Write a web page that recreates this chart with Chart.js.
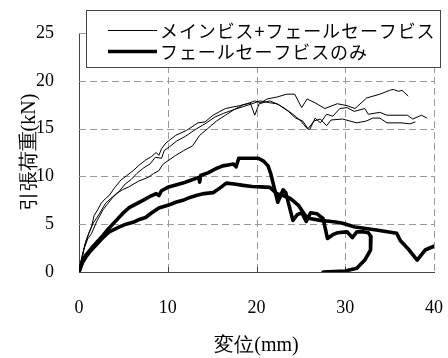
<!DOCTYPE html>
<html>
<head>
<meta charset="utf-8">
<script src="https://cdn.jsdelivr.net/npm/chart.js@4.4.1/dist/chart.umd.min.js"></script>
<style>
html,body{margin:0;padding:0;background:#fff;}
#wrap{width:448px;height:358px;position:relative;}
</style>
</head>
<body>
<div id="wrap"><canvas id="c" width="448" height="358"></canvas></div>
<script>
// ---- data (displacement mm, load kN) ----
const xTicks = [0, 10, 20, 30, 40];
const yTicks = [0, 5, 10, 15, 20, 25];
const xTitle = '変位(mm)';
const yTitle = '引張荷重(kN)';
const seriesNames = ['メインビス+フェールセーフビス', 'フェールセーフビスのみ'];

// メインビス+フェールセーフビス (3 specimens, thin)
const mainA = [[0,0],[0.3,1.5],[0.7,3],[1.1,4],[1.4,4.7],[1.7,5.9],[2.1,6.5],[2.5,7.2],[3.0,7.7],[3.4,8.0],[4.0,8.8],[4.7,9.6],[5.4,10.1],[6.1,10.6],[6.8,11.2],[7.5,11.7],[8.2,12.1],[8.7,12.5],[9.0,12.2],[9.3,12.9],[9.8,13.5],[10.9,14.3],[12.1,14.8],[13.4,15.6],[14.2,15.7],[15.1,16.4],[16.5,17.1],[18.1,17.4],[19.0,17.6],[19.8,17.9],[20.5,17.7],[21.2,18.1],[22.3,18.3],[23.4,18.6],[24.3,18.6],[25.1,17.2],[25.7,18.1],[26.6,17.7],[27.7,17.1],[29.1,17.6],[30.2,17.4],[31.1,17.1],[32.4,18.2],[33.9,18.6],[35.0,19.0],[35.4,19.1],[36.0,18.9],[36.4,19.0],[37.1,18.4]];
const mainB = [[0,0],[0.4,1.8],[0.8,3.3],[1.2,4.3],[1.6,5.1],[2.3,6.1],[3.0,7.2],[3.6,7.7],[4.2,8.2],[4.9,8.6],[5.6,8.9],[6.7,9.5],[7.8,9.9],[8.4,10.3],[9.0,10.6],[9.4,11.2],[9.8,11.5],[10.9,12.2],[11.8,12.7],[12.8,13.2],[13.6,14.3],[14.5,15.0],[15.5,15.8],[16.5,16.4],[17.5,17.0],[18.5,17.3],[19.5,17.6],[20.4,17.9],[21.5,17.7],[22.3,17.6],[23.2,17.1],[24.1,16.5],[25.0,15.8],[25.7,15.0],[26.0,14.9],[26.6,16.1],[27.2,15.6],[27.9,16.5],[28.6,16.3],[29.4,17.1],[30.2,17.2],[31.0,16.8],[32.2,17.1],[32.6,16.5],[33.9,16.7],[34.7,16.4],[37.0,16.4],[37.6,16.0],[38.6,16.4],[39.2,16.1]];
const mainC = [[0,0],[0.3,1.2],[0.6,2.5],[1.0,3.5],[1.4,4.0],[2.0,5.3],[2.7,6.5],[3.2,7.1],[3.8,7.8],[4.5,8.4],[5.2,9.2],[5.9,9.7],[6.5,10.3],[7.3,10.9],[8.0,11.3],[8.6,12.0],[9.3,11.9],[9.6,12.7],[10.2,13.1],[11.0,13.7],[12.0,14.2],[13.1,14.9],[14.2,15.5],[15.3,16.2],[16.3,16.6],[17.5,17.0],[18.5,17.5],[19.3,17.7],[19.8,16.4],[20.3,17.6],[21.5,17.9],[22.5,17.5],[23.6,16.8],[24.4,16.1],[25.2,15.8],[25.8,15.0],[26.5,15.8],[27.2,16.0],[27.9,15.3],[28.4,15.9],[29.7,16.0],[31.3,15.6],[32.4,15.8],[33.1,16.1],[33.9,16.1],[34.7,15.6],[36.3,15.6],[37.3,15.5],[37.9,15.7]];

// フェールセーフビスのみ (2 specimens, thick)
const fsA = [[0,0],[0.4,1.2],[0.8,1.8],[1.6,2.7],[2.5,3.6],[3.3,4.5],[4.2,5.4],[4.9,6.1],[5.6,6.7],[6.4,7.1],[7.2,7.5],[8.0,7.9],[8.7,8.2],[9.0,8.0],[9.3,8.5],[10.1,8.9],[10.9,9.1],[11.7,9.3],[12.6,9.6],[13.5,9.9],[13.6,9.4],[13.7,10.1],[14.6,10.4],[15.4,10.8],[16.2,11.1],[16.8,11.2],[17.4,11.3],[17.7,11.0],[18.0,11.9],[19.1,11.9],[20.2,11.9],[20.8,11.6],[21.3,11.1],[21.6,10.3],[22.0,8.8],[22.4,7.3],[23.0,8.6],[23.3,8.3],[24.1,5.4],[24.6,6.0],[25.1,6.2],[25.6,5.3],[26.1,6.2],[26.8,6.1],[27.5,5.6],[28.0,3.5],[28.6,3.9],[29.1,4.1],[30.2,4.2],[30.8,3.6],[31.3,4.2],[32.0,4.2],[32.6,4.1],[32.9,3.7],[32.9,2.8],[32.8,2.3],[32.2,1.25],[31.3,0.4],[30.0,0.1],[27.5,0]];
const fsB = [[0,0],[0.4,1.0],[0.8,1.6],[1.3,2.2],[1.9,2.8],[2.6,3.5],[3.4,4.2],[4.5,4.7],[5.3,5.0],[6.1,5.2],[6.8,5.5],[7.5,5.7],[8.2,6.2],[9.0,6.7],[10.1,7.0],[10.9,7.3],[11.7,7.5],[12.5,7.8],[13.2,8.0],[14.1,8.2],[15.1,8.3],[15.9,8.8],[16.6,9.3],[17.5,9.2],[18.5,9.06],[19.5,8.95],[20.5,8.9],[21.5,8.85],[22.3,8.2],[23.0,8.0],[23.8,7.7],[24.7,7.0],[25.5,5.9],[26.0,5.6],[27.2,5.4],[28.2,5.3],[29.1,5.2],[29.7,5.1],[31.1,4.7],[33.5,4.4],[35.8,4.06],[36.2,3.3],[37.2,2.3],[38.1,1.25],[39.0,2.3],[40,2.7]];

const toPts = arr => arr.map(p => ({x: p[0], y: p[1]}));
const thin = (label, d) => ({label, data: toPts(d), borderColor: '#000', borderWidth: 1, showLine: true, pointRadius: 0, tension: 0, fill: false});
const thick = (label, d) => ({label, data: toPts(d), borderColor: '#000', borderWidth: 3.6, showLine: true, pointRadius: 0, tension: 0, fill: false, borderJoinStyle: 'round', borderCapStyle: 'round'});

const datasets = [
  thin(seriesNames[0], mainA), thin(seriesNames[0], mainB), thin(seriesNames[0], mainC),
  thick(seriesNames[1], fsA), thick(seriesNames[1], fsB)
];
const legendEntries = [0, 3]; // dataset indices shown in legend

const serif = '"Liberation Serif", "Times New Roman", serif';
const cjk = '"Noto Sans CJK JP", sans-serif';

const boxLegend = {
  id: 'boxLegend',
  afterDraw(chart) {
    const ctx = chart.ctx;
    const L = 86, T = 10, R = 441, B = 68;
    ctx.save();
    ctx.fillStyle = '#fff';
    ctx.fillRect(L, T, R - L, B - T);
    ctx.strokeStyle = '#444';
    ctx.lineWidth = 1;
    ctx.strokeRect(L + 0.5, T + 0.5, R - L - 1, B - T - 1);
    const rows = [30, 51];
    legendEntries.forEach((di, i) => {
      const ds = chart.data.datasets[di];
      ctx.strokeStyle = ds.borderColor;
      ctx.lineWidth = ds.borderWidth;
      ctx.beginPath();
      ctx.moveTo(108, rows[i] + 0.5);
      ctx.lineTo(157, rows[i] + 0.5);
      ctx.stroke();
      ctx.fillStyle = '#000';
      ctx.font = '18px ' + cjk;
      try { ctx.letterSpacing = '0.9px'; } catch (e) {}
      ctx.textBaseline = 'middle';
      ctx.textAlign = 'left';
      ctx.fillText(ds.label, 160, rows[i] + 1);
    });
    ctx.restore();
  }
};

const dashedGrid = {
  id: 'dashedGrid',
  beforeDatasetsDraw(chart) {
    const ctx = chart.ctx, xs = chart.scales.x, ys = chart.scales.y, a = chart.chartArea;
    ctx.save();
    ctx.strokeStyle = '#999';
    ctx.lineWidth = 1;
    ctx.setLineDash([7, 4]);
    ctx.beginPath();
    xTicks.slice(1).forEach(v => {
      const px = Math.round(xs.getPixelForValue(v)) + 0.5;
      ctx.moveTo(px, a.top); ctx.lineTo(px, a.bottom);
    });
    yTicks.slice(1).forEach(v => {
      const py = Math.round(ys.getPixelForValue(v)) + 0.5;
      ctx.moveTo(a.left, py); ctx.lineTo(a.right, py);
    });
    ctx.stroke();
    ctx.setLineDash([]);
    // solid inner tick marks on x axis
    ctx.strokeStyle = '#444';
    ctx.beginPath();
    xTicks.slice(1, -1).forEach(v => {
      const px = Math.round(xs.getPixelForValue(v)) + 0.5;
      ctx.moveTo(px, a.bottom); ctx.lineTo(px, a.bottom - 5);
    });
    ctx.stroke();
    ctx.restore();
  }
};

new Chart(document.getElementById('c'), {
  type: 'scatter',
  data: { datasets },
  options: {
    responsive: false,
    animation: false,
    layout: { padding: { top: 33, right: 14, left: 0, bottom: 0 } },
    plugins: { legend: { display: false }, tooltip: { enabled: false } },
    scales: {
      x: {
        type: 'linear', min: 0, max: 40,
        afterBuildTicks: s => { s.ticks = xTicks.map(v => ({value: v})); },
        afterFit: s => { s.height = 86; s.paddingLeft = 0; s.paddingRight = 0; },
        grid: { display: false },
        border: { display: true, color: '#444', width: 1 },
        ticks: { color: '#000', font: { family: serif, size: 18 }, padding: 17, maxRotation: 0 },
        title: { display: true, text: xTitle, color: '#000', font: { family: serif, size: 20 }, padding: { top: 0, bottom: 0 } }
      },
      y: {
        type: 'linear', min: 0, max: 25,
        afterBuildTicks: s => { s.ticks = yTicks.map(v => ({value: v})); },
        afterFit: s => { s.width = 79; s.paddingTop = 0; s.paddingBottom = 0; },
        grid: { display: false },
        border: { display: true, color: '#444', width: 1 },
        ticks: { color: '#000', font: { family: serif, size: 18 }, padding: 17 },
        title: { display: true, text: yTitle, color: '#000', font: { family: serif, size: 20 }, padding: { top: 18, bottom: 0 } }
      }
    }
  },
  plugins: [dashedGrid, boxLegend]
});
</script>
</body>
</html>
